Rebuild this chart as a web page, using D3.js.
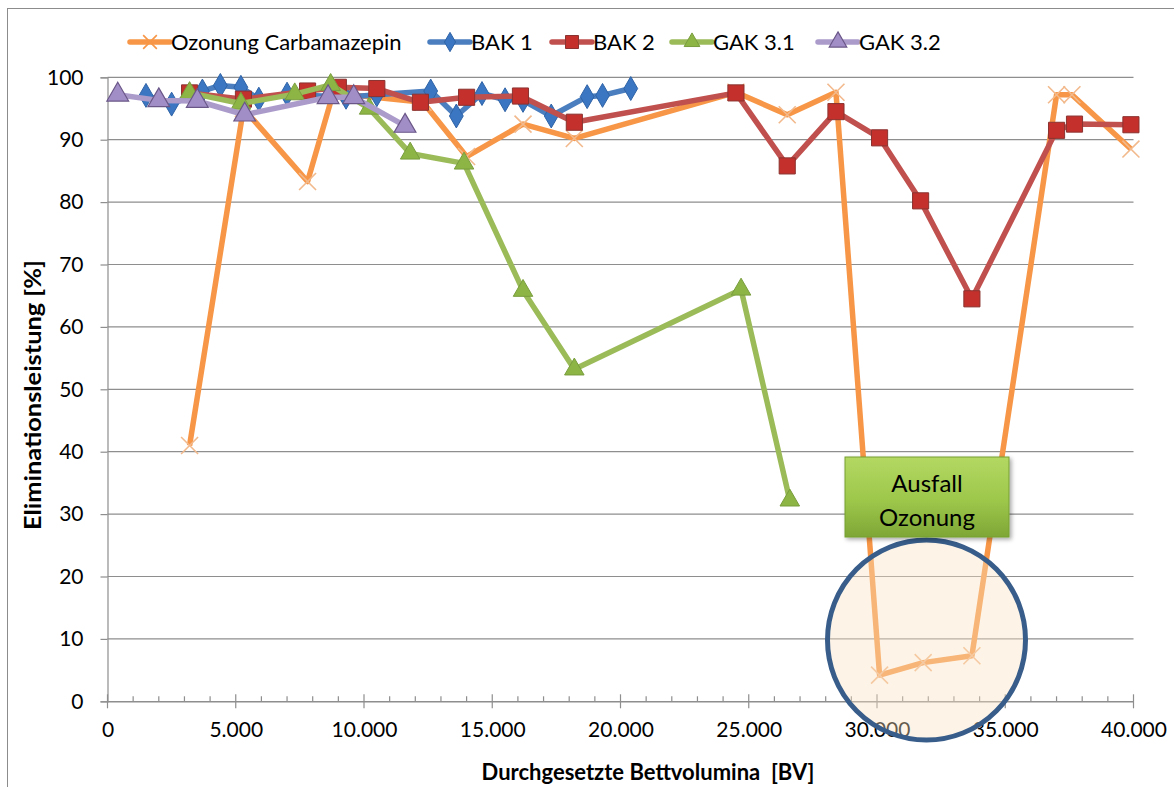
<!DOCTYPE html>
<html>
<head>
<meta charset="utf-8">
<title>Elimination Carbamazepin</title>
<style>
  body { margin: 0; background: #fff; }
  text { font-family: Lato, "Open Sans", sans-serif; fill: #000; }
</style>
</head>
<body>
<script src="https://cdn.jsdelivr.net/npm/d3@7"></script>
<script>

// Daten
var ozonung = [[3200,41],[5300,95],[7800,83.3],[8800,97.5],[12300,96],[14000,87.3],[16200,92.5],[18200,90.2],
               [24500,97.6],[26500,94],[28400,97.6],[30100,4.2],[31800,6.2],[33700,7.3],[37000,97.2],[37600,97.2],[39900,88.5]];
var bak1 = [[1500,97.1],[2500,95.7],[3700,97.8],[4400,98.7],[5200,98.4],[5900,96.5],[7000,97.3],[9300,96.8],
            [10500,97.2],[12600,97.8],[13600,93.8],[14600,97.4],[15500,96.4],[16200,96.3],[17300,93.8],
            [18700,96.9],[19300,97.1],[20400,98.2]];
var bak2 = [[3200,97.5],[5300,96.5],[7800,97.8],[9000,98.4],[10500,98.2],[12200,96],[14000,96.8],[16100,97],
            [18200,92.8],[24500,97.5],[26500,85.8],[28400,94.5],[30100,90.3],[31700,80.2],[33700,64.5],
            [37000,91.5],[37700,92.5],[39900,92.4]];
var gak31 = [[3200,97.5],[5200,95.8],[7300,97.3],[8700,98.8],[10200,95],[11800,87.8],[13900,86.2],
             [16200,65.8],[18200,53.2],[24700,66],[26600,32.2]];
var gak32 = [[400,97.2],[2000,96.3],[3500,96.2],[5350,94],[8600,96.8],[9600,96.8],[11600,92.2]];

var seriesNames = ["Ozonung Carbamazepin", "BAK 1", "BAK 2", "GAK 3.1", "GAK 3.2"];
var xTicks = [0,5000,10000,15000,20000,25000,30000,35000,40000];
var yTicks = [0,10,20,30,40,50,60,70,80,90,100];

var width = 1174, height = 787;
var svg = d3.select("body").append("svg")
    .attr("width", width)
    .attr("height", height);

// Rahmen
svg.append("rect")
    .attr("x", 7.5).attr("y", 8.5)
    .attr("width", 1180).attr("height", 800)
    .attr("fill", "none")
    .attr("stroke", "#8c8c8c")
    .attr("stroke-width", 1);

var x = d3.scaleLinear().domain([0, 40000]).range([107.5, 1133.5]);
var y = d3.scaleLinear().domain([0, 100]).range([701.3, 77.3]);

var fmt = function(d) { return d === 0 ? "0" : d3.format(",")(d).replace(/,/g, "."); };

// Gitternetz
svg.append("g").selectAll("line")
    .data(yTicks.filter(function(d) { return d > 0; }))
    .join("line")
    .attr("x1", x(0)).attr("x2", x(40000))
    .attr("y1", function(d) { return y(d); })
    .attr("y2", function(d) { return y(d); })
    .attr("stroke", "#8e8e8e")
    .attr("stroke-width", 1.2);

// Y-Achse
var yAxis = svg.append("g")
    .attr("transform", "translate(" + x(0) + ",0)")
    .call(d3.axisLeft(y).tickValues(yTicks).tickSize(7).tickPadding(17));
yAxis.select(".domain").attr("stroke", "#8e8e8e").attr("stroke-width", 1.2);
yAxis.selectAll(".tick line").attr("stroke", "#8e8e8e").attr("stroke-width", 1.2);
yAxis.selectAll(".tick text").attr("font-size", 21).attr("font-family", "Lato").attr("fill", "#000");

// X-Achse: Hilfsstriche
svg.append("g").selectAll("line")
    .data(d3.range(0, 40001, 1000))
    .join("line")
    .attr("x1", function(d) { return x(d); })
    .attr("x2", function(d) { return x(d); })
    .attr("y1", function(d) { return d % 5000 === 0 ? y(0) - 7 : y(0) - 5; })
    .attr("y2", function(d) { return d % 5000 === 0 ? y(0) + 7 : y(0); })
    .attr("stroke", "#8e8e8e")
    .attr("stroke-width", 1.2);

var xAxis = svg.append("g")
    .attr("transform", "translate(0," + y(0) + ")")
    .call(d3.axisBottom(x).tickValues(xTicks).tickFormat(fmt).tickSize(0).tickPadding(21));
xAxis.select(".domain").attr("stroke", "#8e8e8e").attr("stroke-width", 1.4);
xAxis.selectAll(".tick text").attr("font-size", 21).attr("font-family", "Lato").attr("fill", "#000");

// Achsentitel
svg.append("text")
    .attr("x", 648).attr("y", 780)
    .attr("text-anchor", "middle")
    .attr("font-size", 22).attr("font-weight", "bold")
    .attr("xml:space", "preserve")
    .text("Durchgesetzte Bettvolumina  [BV]");

svg.append("text")
    .attr("transform", "translate(41,395) rotate(-90)")
    .attr("text-anchor", "middle")
    .attr("font-size", 23).attr("font-weight", "bold")
    .attr("textLength", 270).attr("lengthAdjust", "spacingAndGlyphs")
    .text("Eliminationsleistung [%]");

// Reihen
var styles = [
  {data: ozonung, line: "#f79646", symbol: d3.symbolX, size: 190, fill: "none", stroke: "#f2b98c", sw: 1.6},
  {data: bak1, line: "#4a7ebf", symbol: d3.symbolDiamond, size: 165, fill: "#3a76c2", stroke: "#2f63a6", sw: 1},
  {data: bak2, line: "#c0504d", symbol: d3.symbolSquare, size: 260, fill: "#c4302c", stroke: "#8a3330", sw: 1},
  {data: gak31, line: "#9bbb59", symbol: d3.symbolTriangle, size: 165, fill: "#8cb545", stroke: "#799d3d", sw: 1},
  {data: gak32, line: "#ab9bcb", symbol: d3.symbolTriangle, size: 205, fill: "#a28ec6", stroke: "#6a5788", sw: 1.2}
];

var line = d3.line()
    .x(function(d) { return x(d[0]); })
    .y(function(d) { return y(d[1]); });

styles.forEach(function(s) {
  var g = svg.append("g");
  g.append("path")
    .attr("d", line(s.data))
    .attr("fill", "none")
    .attr("stroke", s.line)
    .attr("stroke-width", 5.5)
    .attr("stroke-linejoin", "round");
  g.selectAll("path.m")
    .data(s.data)
    .join("path")
    .attr("class", "m")
    .attr("transform", function(d) { return "translate(" + x(d[0]) + "," + y(d[1]) + ")"; })
    .attr("d", d3.symbol().type(s.symbol).size(s.size))
    .attr("fill", s.fill)
    .attr("stroke", s.stroke)
    .attr("stroke-width", s.sw);
});

// Legende
var legendX = [130, 430, 552, 672, 818];
var lg = svg.append("g");
styles.forEach(function(s, i) {
  var g = lg.append("g").attr("transform", "translate(" + legendX[i] + ",42)");
  g.append("line")
    .attr("x1", 0).attr("x2", 40)
    .attr("stroke", s.line).attr("stroke-width", 5.5)
    .attr("stroke-linecap", "round");
  g.append("path")
    .attr("transform", "translate(20,0)")
    .attr("d", d3.symbol().type(s.symbol).size(s.size * 0.65))
    .attr("fill", s.fill === "none" ? "none" : s.fill)
    .attr("stroke", i === 0 ? "#f79646" : s.stroke)
    .attr("stroke-width", s.sw);
  g.append("text")
    .attr("x", 41).attr("y", 7.5)
    .attr("font-size", 22)
    .text(seriesNames[i]);
});

// Anmerkung: Kreis
svg.append("ellipse")
    .attr("cx", 926.5).attr("cy", 640)
    .attr("rx", 99).attr("ry", 100)
    .attr("fill", "#fbe3c4")
    .attr("fill-opacity", 0.4)
    .attr("stroke", "#385d8a")
    .attr("stroke-width", 5);

// Anmerkung: Kasten
var defs = svg.append("defs");
var grad = defs.append("linearGradient").attr("id", "boxgrad")
    .attr("x1", 0).attr("y1", 0).attr("x2", 0).attr("y2", 1);
grad.append("stop").attr("offset", "0%").attr("stop-color", "#b4d863");
grad.append("stop").attr("offset", "55%").attr("stop-color", "#9cc74a");
grad.append("stop").attr("offset", "100%").attr("stop-color", "#7ea636");
var shadow = defs.append("filter").attr("id", "shadow").attr("x", "-10%").attr("y", "-10%").attr("width", "130%").attr("height", "130%");
shadow.append("feDropShadow").attr("dx", 2).attr("dy", 2).attr("stdDeviation", 2).attr("flood-opacity", 0.35);

svg.append("rect")
    .attr("x", 845).attr("y", 457)
    .attr("width", 164).attr("height", 80)
    .attr("fill", "url(#boxgrad)")
    .attr("stroke", "#76a030")
    .attr("stroke-width", 1)
    .attr("filter", "url(#shadow)");

svg.append("text")
    .attr("x", 927).attr("y", 492)
    .attr("text-anchor", "middle")
    .attr("font-size", 24)
    .text("Ausfall");
svg.append("text")
    .attr("x", 927).attr("y", 526)
    .attr("text-anchor", "middle")
    .attr("font-size", 24)
    .text("Ozonung");

</script>
</body>
</html>
